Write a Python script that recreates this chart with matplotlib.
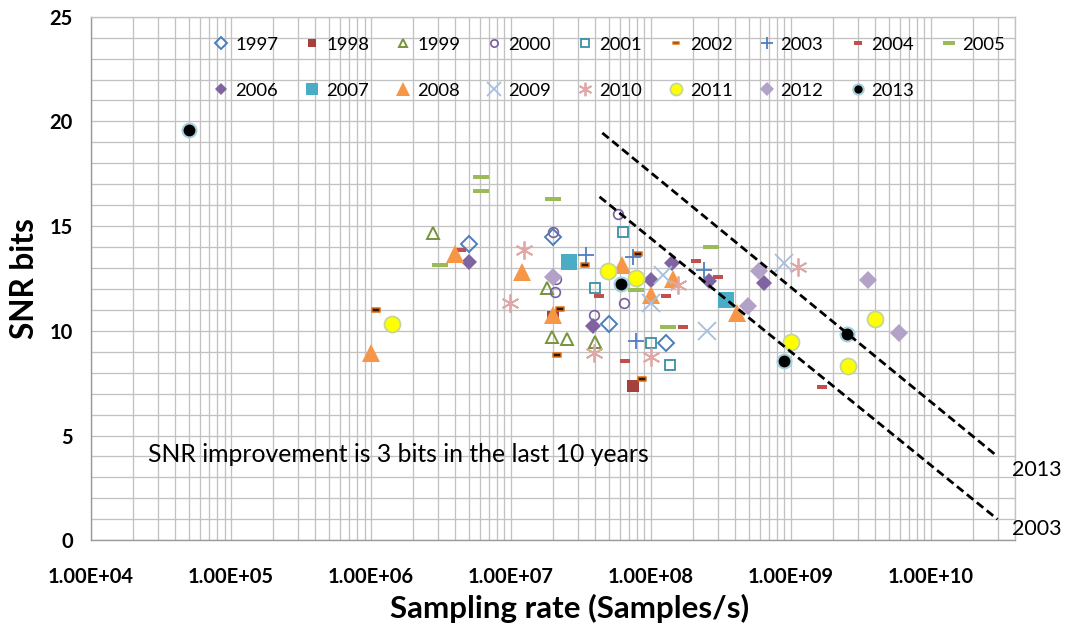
import matplotlib
matplotlib.use("Agg")
import matplotlib.pyplot as plt
import matplotlib.transforms as mtransforms
from matplotlib.path import Path
from matplotlib.ticker import LogLocator, FixedLocator, FuncFormatter, MultipleLocator, NullFormatter

plt.rcParams['font.family'] = ['Lato', 'DejaVu Sans']

# ---------------- data (sampling rate [S/s], SNR [bits]) ----------------
rate_1997 = [5.0e6, 2.0e7, 5.0e7, 1.28e8]
snr_1997 = [14.14, 14.46, 10.31, 9.40]
rate_1998 = [2.0e7, 7.4e7]
snr_1998 = [10.65, 7.38]
rate_1999 = [2.8e6, 1.8e7, 1.97e7, 2.5e7, 3.96e7]
snr_1999 = [14.68, 12.03, 9.72, 9.59, 9.48]
rate_2000 = [2.0e7, 2.1e7, 2.05e7, 5.8e7, 3.94e7, 6.4e7]
snr_2000 = [14.70, 12.45, 11.84, 15.56, 10.75, 11.35]
rate_2001 = [6.3e7, 3.98e7, 1.0e8, 1.37e8]
snr_2001 = [14.73, 12.03, 9.43, 8.37]
rate_2002 = [1.08e6, 3.4e7, 8.1e7, 2.26e7, 2.14e7, 8.6e7]
snr_2002 = [10.98, 13.14, 13.67, 11.03, 8.83, 7.68]
rate_2003 = [3.47e7, 7.5e7, 7.8e7, 2.39e8]
snr_2003 = [13.62, 13.54, 9.53, 12.90]
rate_2004 = [4.4e6, 4.25e7, 6.5e7, 1.29e8, 1.70e8, 2.12e8, 3.03e8, 1.68e9]
snr_2004 = [13.84, 11.68, 8.54, 11.68, 10.17, 13.33, 12.55, 7.33]
rate_2005 = [6.1e6, 6.1e6, 3.1e6, 2.0e7, 7.9e7, 1.32e8, 2.68e8]
snr_2005 = [17.33, 16.66, 13.14, 16.31, 11.95, 10.17, 13.99]
rate_2006 = [5.0e6, 3.86e7, 1.01e8, 1.41e8, 2.6e8, 6.4e8]
snr_2006 = [13.30, 10.24, 12.43, 13.22, 12.38, 12.30]
rate_2007 = [2.6e7, 3.43e8]
snr_2007 = [13.30, 11.47]
rate_2008 = [1.0e6, 4.0e6, 1.2e7, 1.99e7, 6.2e7, 1.0e8, 1.44e8, 4.13e8]
snr_2008 = [8.95, 13.68, 12.82, 10.75, 13.16, 11.71, 12.47, 10.83]
rate_2009 = [1.0e8, 1.22e8, 2.5e8, 9.0e8]
snr_2009 = [11.31, 12.66, 10.00, 13.22]
rate_2010 = [9.8e6, 1.24e7, 3.94e7, 1.0e8, 1.57e8, 1.12e9]
snr_2010 = [11.31, 13.86, 8.92, 8.73, 12.19, 13.05]
rate_2011 = [1.41e6, 4.95e7, 7.9e7, 1.01e9, 3.98e9, 2.57e9]
snr_2011 = [10.32, 12.87, 12.51, 9.48, 10.56, 8.33]
rate_2012 = [2.0e7, 4.95e8, 5.94e8, 3.56e9, 5.94e9]
snr_2012 = [12.55, 11.18, 12.87, 12.43, 9.91]
rate_2013 = [5.0e4, 6.08e7, 8.9e8, 2.52e9]
snr_2013 = [19.59, 12.22, 8.57, 9.85]

# trend lines (start/end)
trend_labels = ['2013', '2003']
trend_rate = [[4.5e7, 3.0e10], [4.3e7, 3.0e10]]
trend_snr = [[19.45, 4.0], [16.4, 1.0]]

x_ticks = [1e4, 1e5, 1e6, 1e7, 1e8, 1e9, 1e10]
annotation = 'SNR improvement is 3 bits in the last 10 years'
x_title = 'Sampling rate (Samples/s)'
y_title = 'SNR bits'


def rect_marker(aspect):
    verts = [(-1, -aspect), (1, -aspect), (1, aspect), (-1, aspect), (-1, -aspect)]
    codes = [Path.MOVETO, Path.LINETO, Path.LINETO, Path.LINETO, Path.CLOSEPOLY]
    return Path(verts, codes)


series = [
    ('1997', rate_1997, snr_1997, dict(marker='D', ms=8.2, mfc='none', mec='#4A7EBB', mew=1.4)),
    ('1998', rate_1998, snr_1998, dict(marker='s', ms=8.5, mfc='#A5403D', mec='#A5403D', mew=0)),
    ('1999', rate_1999, snr_1999, dict(marker='^', ms=8.0, mfc='none', mec='#77933C', mew=1.4)),
    ('2000', rate_2000, snr_2000, dict(marker='o', ms=7.0, mfc='none', mec='#7A5FA0', mew=1.2)),
    ('2001', rate_2001, snr_2001, dict(marker='s', ms=7.5, mfc='none', mec='#3A8FA8', mew=1.3)),
    ('2002', rate_2002, snr_2002, dict(marker=rect_marker(0.376), ms=6.1, mfc='#2A1A0A', mec='#E46C0A', mew=1.1)),
    ('2003', rate_2003, snr_2003, dict(marker='+', ms=11.5, color='#4F7EC0', mew=1.3)),
    ('2004', rate_2004, snr_2004, dict(marker=rect_marker(0.43), ms=7.2, mfc='#C0504D', mec='#C0504D', mew=0)),
    ('2005', rate_2005, snr_2005, dict(marker=rect_marker(0.25), ms=12.2, mfc='#9BBB59', mec='#9BBB59', mew=0)),
    ('2006', rate_2006, snr_2006, dict(marker='D', ms=8.5, mfc='#8064A2', mec='#8064A2', mew=0)),
    ('2007', rate_2007, snr_2007, dict(marker='s', ms=12.0, mfc='#4BACC6', mec='#4BACC6', mew=0)),
    ('2008', rate_2008, snr_2008, dict(marker='^', ms=13.5, mfc='#F79646', mec='#F79646', mew=0)),
    ('2009', rate_2009, snr_2009, dict(marker='x', ms=13.0, color='#A7BFDE', mew=1.3)),
    ('2010', rate_2010, snr_2010, dict(marker=(6, 2, 0), ms=13.0, color='#DFA7A6', mew=1.3)),
    ('2011', rate_2011, snr_2011, dict(marker='o', ms=11.5, mfc='#FFFF00', mec='#C4D79B', mew=1.3)),
    ('2012', rate_2012, snr_2012, dict(marker='D', ms=9.5, mfc='#B3A2C7', mec='#B3A2C7', mew=0)),
    ('2013', rate_2013, snr_2013, dict(marker='o', ms=10.0, mfc='#000000', mec='#A5D0DE', mew=1.5)),
]

W, H = 1073, 627
fig = plt.figure(figsize=(W / 100, H / 100), dpi=100)
ax_l, ax_r, ax_t, ax_b = 91, 1015, 16.7, 540.2
ax = fig.add_axes([ax_l / W, 1 - ax_b / H, (ax_r - ax_l) / W, (ax_b - ax_t) / H])

ax.set_xscale('log')
ax.set_xlim(1e4, 4e10)
ax.set_ylim(0, 25)

handles = {}
for i, (lab, xs, ys, st) in enumerate(series):
    h, = ax.plot(xs, ys, linestyle='none', label=lab, zorder=3 + i * 0.01, **st)
    handles[lab] = h

for lab, xs, ys in zip(trend_labels, trend_rate, trend_snr):
    ax.plot(xs, ys, color='black', lw=2.0, dashes=(3, 1.6), zorder=5)

# grid / ticks
ax.xaxis.set_major_locator(FixedLocator(x_ticks))
ax.xaxis.set_minor_locator(LogLocator(base=10, subs=range(2, 10), numticks=200))
ax.xaxis.set_major_formatter(FuncFormatter(lambda v, p: f'{v:.2E}'))
ax.xaxis.set_minor_formatter(NullFormatter())
ax.yaxis.set_major_locator(MultipleLocator(5))
ax.yaxis.set_minor_locator(MultipleLocator(1))
ax.grid(which='both', color='#C2C2C2', lw=0.95, zorder=0)
ax.set_axisbelow(True)
ax.tick_params(which='both', length=0)
ax.tick_params(axis='x', pad=19, labelsize=14.5)
ax.tick_params(axis='y', pad=13, labelsize=14.5)
for t in ax.get_xticklabels() + ax.get_yticklabels():
    t.set_fontweight('bold')
for s in ['top', 'right']:
    ax.spines[s].set_color('#C2C2C2')
for s in ['left', 'bottom']:
    ax.spines[s].set_color('#9A9A9A')
for s in ax.spines.values():
    s.set_linewidth(1.0)

ax.set_xlabel(x_title, fontsize=22.5, fontweight='bold', va='baseline', ha='center')
ax.xaxis.set_label_coords((570 - ax_l) / (ax_r - ax_l), (ax_b - 618) / (ax_b - ax_t))
ax.set_ylabel(y_title, fontsize=22.8, fontweight='bold', va='center', ha='center')
ax.yaxis.set_label_coords((25 - ax_l) / (ax_r - ax_l), 0.5)

# annotation
trans = mtransforms.blended_transform_factory(ax.transAxes, ax.transData)
ax.text((148 - ax_l) / (ax_r - ax_l), 4.07, annotation, transform=trans,
        ha='left', va='center', fontsize=17.8)

for lab, ypix in zip(trend_labels, [469.5, 528.8]):
    fig.text(1012 / W, 1 - ypix / H, lab, ha='left', va='center', fontsize=15.5)

# legend: row-major order (9 columns, 2 rows)
years = [s[0] for s in series]
row1, row2 = years[:9], years[9:]
order = []
for j in range(9):
    order.append(row1[j])
    if j < len(row2):
        order.append(row2[j])
leg = ax.legend([handles[k] for k in order], order, ncol=9, frameon=False,
                loc='upper left',
                bbox_to_anchor=((212 - ax_l) / (ax_r - ax_l), 1 - (36.5 - ax_t) / (ax_b - ax_t)),
                borderpad=0, borderaxespad=0, handlelength=1.0, handletextpad=0.25,
                columnspacing=1.35, labelspacing=1.64, markerscale=0.75,
                fontsize=13.3, numpoints=1)
leg.set_zorder(6)

fig.savefig('out.png', dpi=100)
